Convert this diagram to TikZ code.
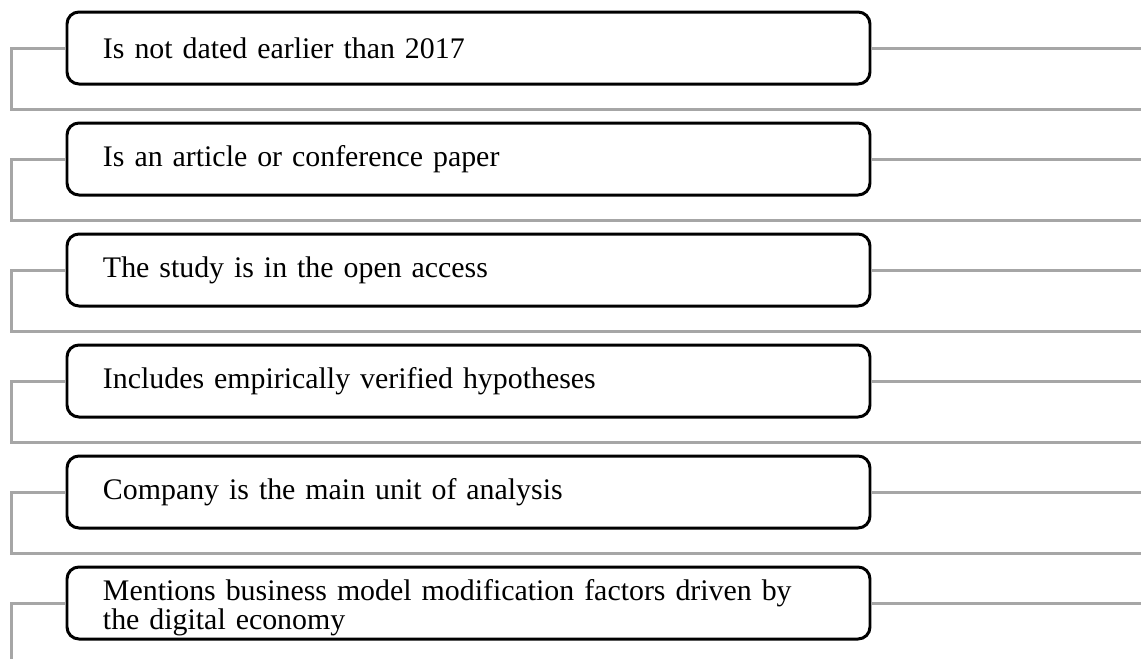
\documentclass[tikz,border=0pt]{standalone}
\usepackage{fontspec}
\setmainfont{Liberation Serif}
\usetikzlibrary{positioning}

\begin{document}
\begin{tikzpicture}[
    crit/.style={draw, line width=1.7pt, rounded corners=0.24cm, fill=white,
        text width=14.62cm, align=left, inner xsep=0.72cm, inner ysep=0pt,
        minimum height=1.44cm, font=\fontsize{17pt}{14.8pt}\selectfont},
    link/.style={draw=black!35, line width=1.7pt}
]
    \useasboundingbox (0,0) rectangle (22.82,-13.18);

    % Auswahlkriterien
    \node[crit] (c1) at (9.37,-0.96) {Is not dated earlier than 2017};
    \node[crit] (c2) at (9.37,-3.18) {Is an article or conference paper};
    \node[crit] (c3) at (9.37,-5.40) {The study is in the open access};
    \node[crit] (c4) at (9.37,-7.62) {Includes empirically verified hypotheses};
    \node[crit] (c5) at (9.37,-9.84) {Company is the main unit of analysis};
    \node[crit] (c6) at (9.37,-12.06) {\rule{0pt}{17pt}Mentions business model modification factors driven by\\the digital economy};

    % Verbindungslinien
    \foreach \i/\y in {1/-0.96, 2/-3.18, 3/-5.40, 4/-7.62, 5/-9.84, 6/-12.06} {
        \coordinate (l\i) at (0.23,\y);
        \coordinate (r\i) at (22.82,\y);
        \coordinate (e\i) at (22.82,\y-1.22);
    }
    \coordinate (b6) at (0.23,-13.18);

    \foreach \i in {1,...,5} {
        \draw[link] (c\i.west) -- (l\i) |- (e\i);
        \draw[link] (c\i.east) -- (r\i);
    }
    \draw[link] (c6.west) -- (l6) -- (b6);
    \draw[link] (c6.east) -- (r6);
\end{tikzpicture}
\end{document}
